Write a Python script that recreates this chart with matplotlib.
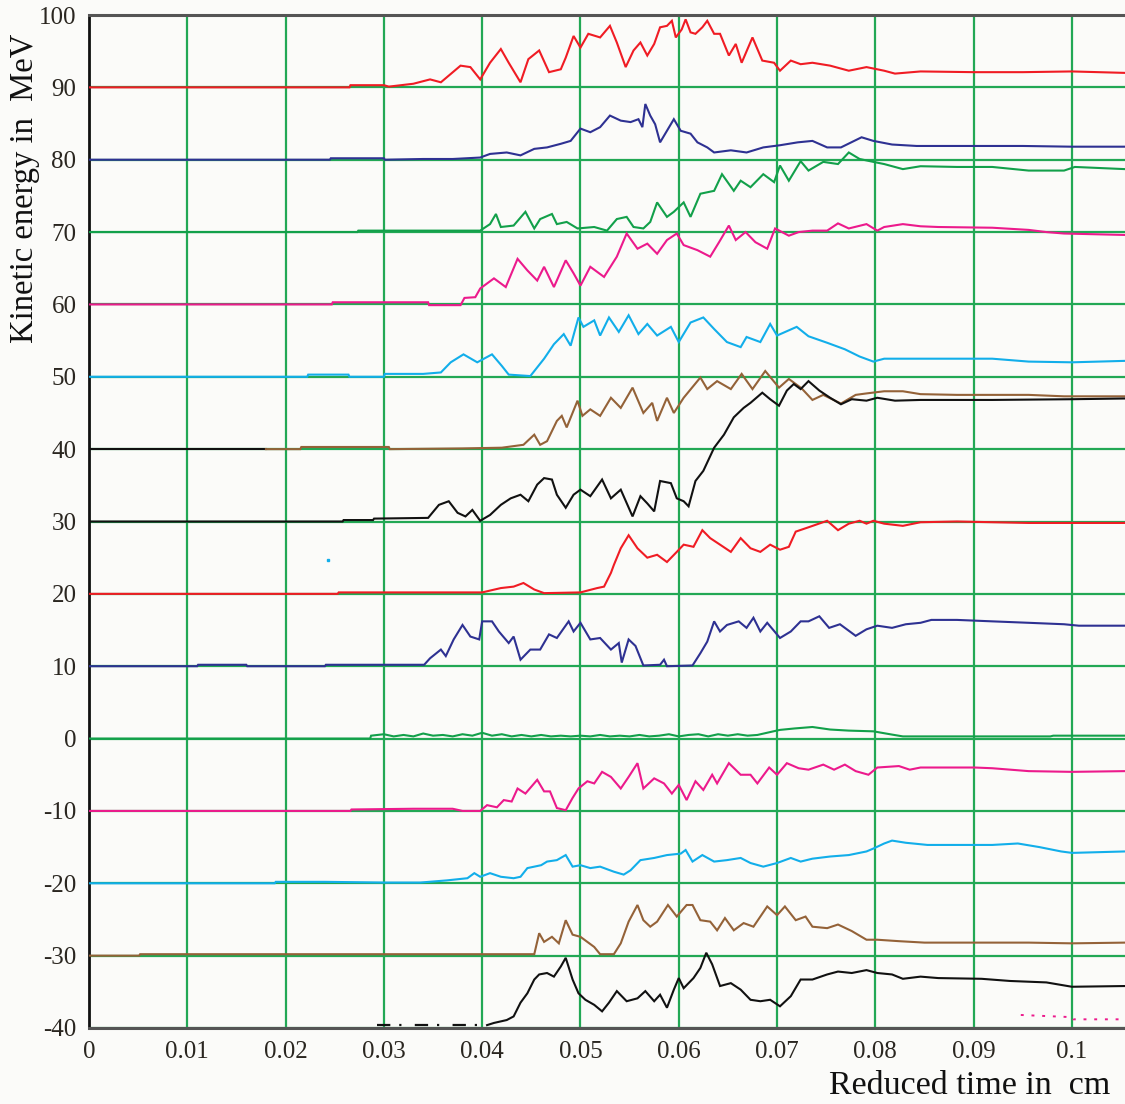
import numpy as np
import matplotlib
matplotlib.use("Agg")
import matplotlib.pyplot as plt

plt.rcParams['font.family'] = ['Liberation Serif', 'DejaVu Serif']
plt.rcParams['axes.unicode_minus'] = False

# time ticks / energy ticks
x_ticks = [0, 0.01, 0.02, 0.03, 0.04, 0.05, 0.06, 0.07, 0.08, 0.09, 0.1]
x_labels = ["0", "0.01", "0.02", "0.03", "0.04", "0.05", "0.06", "0.07", "0.08", "0.09", "0.1"]
y_ticks = [-40, -30, -20, -10, 0, 10, 20, 30, 40, 50, 60, 70, 80, 90, 100]
y_labels = ["-40", "-30", "-20", "-10", "0", "10", "20", "30", "40", "50", "60", "70", "80", "90", "100"]

# kinetic energy traces, (reduced time, MeV), each shifted by its own offset
red_90 = [(0, 90), (0.0265, 90), (0.0266, 90.3), (0.0300, 90.3), (0.0305, 90.1), (0.0330, 90.5),
          (0.0347, 91.1), (0.0358, 90.7), (0.0378, 93.0), (0.0388, 92.8), (0.0398, 91.1),
          (0.0408, 93.4), (0.0419, 95.3), (0.0427, 93.4), (0.0439, 90.7), (0.0447, 93.9),
          (0.0458, 95.1), (0.0468, 92.1), (0.0480, 92.5), (0.0485, 94.1), (0.0493, 97.1),
          (0.0500, 95.5), (0.0508, 97.4), (0.0520, 96.9), (0.0530, 98.5), (0.0537, 96.2),
          (0.0546, 92.8), (0.0554, 95.1), (0.0561, 96.2), (0.0568, 94.4), (0.0575, 96.0),
          (0.0581, 98.3), (0.0588, 98.5), (0.0593, 99.2), (0.0597, 96.9), (0.0603, 98.0),
          (0.0607, 99.4), (0.0612, 97.6), (0.0617, 97.4), (0.0624, 98.3), (0.0629, 99.2),
          (0.0636, 97.4), (0.0642, 97.4), (0.0651, 94.4), (0.0658, 96.0), (0.0664, 93.4),
          (0.0675, 96.9), (0.0685, 93.7), (0.0697, 93.4), (0.0703, 92.3), (0.0714, 93.7),
          (0.0724, 93.2), (0.0736, 93.4), (0.0754, 93.0), (0.0773, 92.3), (0.0791, 92.8),
          (0.0809, 92.3), (0.0820, 91.9), (0.0846, 92.2), (0.0900, 92.1), (0.0950, 92.1),
          (0.1000, 92.2), (0.1054, 92.0)]

navy_80 = [(0, 80), (0.0245, 80), (0.0246, 80.2), (0.0300, 80.2), (0.0301, 80.0), (0.0340, 80.1),
           (0.0370, 80.1), (0.0398, 80.3), (0.0408, 80.8), (0.0425, 81.0), (0.0439, 80.6),
           (0.0453, 81.5), (0.0466, 81.7), (0.0480, 82.2), (0.0490, 82.6), (0.0500, 84.3),
           (0.0510, 83.8), (0.0520, 84.5), (0.0530, 86.1), (0.0541, 85.4), (0.0551, 85.2),
           (0.0559, 85.6), (0.0563, 84.5), (0.0566, 87.7), (0.0571, 86.1), (0.0576, 84.9),
           (0.0581, 82.4), (0.0588, 84.0), (0.0595, 85.6), (0.0602, 84.0), (0.0612, 83.6),
           (0.0619, 82.4), (0.0629, 81.7), (0.0636, 81.0), (0.0653, 81.3), (0.0669, 81.0),
           (0.0686, 81.7), (0.0703, 82.0), (0.0721, 82.4), (0.0736, 82.6), (0.0751, 81.7),
           (0.0765, 81.7), (0.0786, 83.1), (0.0798, 82.6), (0.0817, 82.1), (0.0842, 81.9),
           (0.0950, 81.9), (0.1000, 81.8), (0.1054, 81.8)]

green_70 = [(0, 70), (0.0273, 70), (0.0274, 70.2), (0.0398, 70.2), (0.0408, 71.1), (0.0414, 72.5),
            (0.0419, 70.7), (0.0432, 70.9), (0.0444, 72.8), (0.0453, 70.5), (0.0459, 71.8),
            (0.0471, 72.5), (0.0476, 71.1), (0.0486, 71.4), (0.0497, 70.5), (0.0514, 70.7),
            (0.0527, 70.2), (0.0537, 71.8), (0.0547, 72.1), (0.0554, 70.7), (0.0564, 70.5),
            (0.0571, 71.4), (0.0578, 74.1), (0.0588, 72.1), (0.0595, 72.8), (0.0605, 74.1),
            (0.0612, 72.1), (0.0622, 75.3), (0.0636, 75.7), (0.0644, 78.0), (0.0656, 75.7),
            (0.0663, 77.1), (0.0673, 76.2), (0.0686, 78.0), (0.0697, 76.9), (0.0703, 79.2),
            (0.0712, 77.1), (0.0724, 79.8), (0.0732, 78.5), (0.0747, 79.7), (0.0762, 79.4),
            (0.0773, 81.0), (0.0784, 80.1), (0.0798, 79.7), (0.0809, 79.4), (0.0828, 78.7),
            (0.0846, 79.1), (0.0883, 79.0), (0.0919, 79.0), (0.0956, 78.5), (0.0992, 78.5),
            (0.1003, 79.0), (0.1054, 78.7)]

pink_60 = [(0, 60), (0.0247, 60), (0.0248, 60.3), (0.0345, 60.3), (0.0346, 59.9), (0.0378, 59.9),
           (0.0382, 60.9), (0.0393, 61.0), (0.0398, 62.2), (0.0412, 63.6), (0.0424, 62.4),
           (0.0436, 66.3), (0.0446, 64.7), (0.0456, 63.3), (0.0463, 65.2), (0.0473, 62.4),
           (0.0485, 66.1), (0.0493, 64.3), (0.0500, 62.6), (0.0510, 65.2), (0.0524, 63.8),
           (0.0537, 66.6), (0.0547, 69.8), (0.0558, 67.7), (0.0568, 68.4), (0.0578, 67.0),
           (0.0588, 68.9), (0.0598, 69.8), (0.0605, 68.2), (0.0619, 67.5), (0.0632, 66.6),
           (0.0641, 68.6), (0.0651, 70.9), (0.0658, 68.9), (0.0668, 70.0), (0.0678, 68.6),
           (0.0690, 67.7), (0.0698, 70.5), (0.0712, 69.5), (0.0722, 70.0), (0.0736, 70.2),
           (0.0751, 70.2), (0.0762, 71.2), (0.0773, 70.5), (0.0791, 71.1), (0.0802, 70.2),
           (0.0809, 70.7), (0.0828, 71.1), (0.0846, 70.8), (0.0864, 70.7), (0.0919, 70.6),
           (0.0956, 70.3), (0.0974, 70.0), (0.0992, 69.8), (0.1054, 69.6)]

cyan_50 = [(0, 50), (0.0222, 50), (0.0223, 50.3), (0.0264, 50.3), (0.0265, 50.0), (0.0300, 50.0),
           (0.0301, 50.4), (0.0340, 50.4), (0.0358, 50.6), (0.0368, 52.0), (0.0381, 53.1),
           (0.0395, 52.0), (0.0410, 53.1), (0.0420, 51.5), (0.0427, 50.3), (0.0449, 50.1),
           (0.0463, 52.5), (0.0473, 54.5), (0.0483, 55.9), (0.0490, 54.3), (0.0498, 58.2),
           (0.0503, 56.9), (0.0514, 57.8), (0.0520, 55.7), (0.0529, 58.2), (0.0539, 56.2),
           (0.0549, 58.5), (0.0559, 55.9), (0.0568, 57.3), (0.0578, 55.7), (0.0592, 56.9),
           (0.0600, 54.8), (0.0612, 57.5), (0.0625, 58.2), (0.0636, 56.6), (0.0649, 54.8),
           (0.0663, 54.1), (0.0669, 55.5), (0.0683, 54.8), (0.0693, 57.3), (0.0700, 55.7),
           (0.0720, 56.9), (0.0732, 55.6), (0.0751, 54.7), (0.0769, 53.8), (0.0784, 52.8),
           (0.0798, 52.1), (0.0809, 52.5), (0.0846, 52.5), (0.0919, 52.5), (0.0956, 52.1),
           (0.1000, 52.0), (0.1054, 52.2)]

black_40 = [(0, 40), (0.018, 40)]
brown_40 = [(0.018, 40), (0.0215, 40), (0.0216, 40.3), (0.0305, 40.3), (0.0306, 40.0), (0.0380, 40.1),
            (0.0420, 40.2), (0.0442, 40.6), (0.0453, 42.0), (0.0459, 40.6), (0.0466, 41.1),
            (0.0476, 43.9), (0.0481, 44.6), (0.0486, 43.0), (0.0497, 46.7), (0.0502, 44.6),
            (0.0510, 45.5), (0.0520, 44.6), (0.0531, 47.1), (0.0541, 45.7), (0.0553, 48.5),
            (0.0564, 45.0), (0.0573, 46.4), (0.0578, 43.9), (0.0588, 47.1), (0.0595, 45.0),
            (0.0605, 47.1), (0.0622, 49.9), (0.0629, 48.3), (0.0639, 49.4), (0.0653, 48.3),
            (0.0664, 50.4), (0.0675, 48.3), (0.0688, 50.8), (0.0702, 48.5), (0.0712, 49.7),
            (0.0725, 48.4), (0.0736, 46.8), (0.0747, 47.5), (0.0765, 46.3), (0.0780, 47.5),
            (0.0791, 47.7), (0.0809, 48.0), (0.0828, 48.0), (0.0846, 47.6), (0.0883, 47.5),
            (0.0956, 47.5), (0.0992, 47.3), (0.1054, 47.3)]

black_30 = [(0, 30), (0.0258, 30), (0.0259, 30.2), (0.0289, 30.2), (0.0290, 30.4), (0.0345, 30.5),
            (0.0356, 32.3), (0.0366, 32.8), (0.0375, 31.2), (0.0383, 30.7), (0.0390, 31.6),
            (0.0398, 30.1), (0.0408, 30.9), (0.0419, 32.3), (0.0429, 33.2), (0.0439, 33.7),
            (0.0447, 32.8), (0.0456, 35.1), (0.0463, 36.0), (0.0471, 35.8), (0.0476, 33.7),
            (0.0485, 31.9), (0.0493, 33.7), (0.0500, 34.4), (0.0510, 33.5), (0.0522, 35.8),
            (0.0531, 33.2), (0.0541, 34.4), (0.0553, 30.7), (0.0561, 33.5), (0.0568, 32.5),
            (0.0575, 31.4), (0.0581, 35.6), (0.0592, 35.3), (0.0598, 33.2), (0.0605, 32.8),
            (0.0610, 32.1), (0.0617, 35.6), (0.0625, 37.0), (0.0636, 40.2), (0.0646, 42.0),
            (0.0656, 44.4), (0.0666, 45.7), (0.0673, 46.4), (0.0685, 47.8), (0.0693, 46.9),
            (0.0702, 46.0), (0.0710, 48.1), (0.0717, 49.0), (0.0724, 48.3), (0.0732, 49.4),
            (0.0743, 48.1), (0.0754, 47.1), (0.0765, 46.2), (0.0776, 46.9), (0.0791, 46.7),
            (0.0802, 47.1), (0.0820, 46.7), (0.0846, 46.8), (0.0919, 46.8), (0.1000, 46.9),
            (0.1054, 47.0)]

red_20 = [(0, 20), (0.0253, 20), (0.0254, 20.2), (0.0400, 20.2), (0.0419, 20.8), (0.0432, 21.0),
          (0.0442, 21.5), (0.0453, 20.6), (0.0463, 20.1), (0.0500, 20.2), (0.0517, 20.8),
          (0.0524, 21.0), (0.0531, 22.9), (0.0534, 24.0), (0.0541, 26.3), (0.0549, 28.1),
          (0.0558, 26.3), (0.0568, 25.0), (0.0578, 25.4), (0.0588, 24.4), (0.0598, 25.8),
          (0.0605, 26.8), (0.0615, 26.5), (0.0624, 28.8), (0.0632, 27.7), (0.0642, 26.8),
          (0.0653, 25.8), (0.0663, 27.7), (0.0673, 26.3), (0.0683, 25.8), (0.0693, 26.8),
          (0.0703, 26.1), (0.0712, 26.5), (0.0719, 28.6), (0.0732, 29.2), (0.0751, 30.1),
          (0.0762, 28.8), (0.0773, 29.7), (0.0784, 30.1), (0.0791, 29.7), (0.0798, 30.1),
          (0.0809, 29.7), (0.0828, 29.4), (0.0846, 29.9), (0.0883, 30.0), (0.0956, 29.8),
          (0.1054, 29.8)]

navy_10 = [(0, 10), (0.0110, 10), (0.0111, 10.2), (0.0160, 10.2), (0.0161, 10.0), (0.0240, 10.0),
           (0.0241, 10.2), (0.0341, 10.2), (0.0347, 11.1), (0.0358, 12.3), (0.0363, 11.4),
           (0.0371, 13.7), (0.0380, 15.7), (0.0388, 14.1), (0.0397, 13.7), (0.0400, 16.2),
           (0.0410, 16.2), (0.0417, 14.8), (0.0427, 13.2), (0.0432, 14.1), (0.0439, 10.9),
           (0.0449, 12.3), (0.0459, 12.3), (0.0468, 14.4), (0.0476, 13.9), (0.0488, 16.2),
           (0.0493, 14.8), (0.0500, 16.0), (0.0510, 13.7), (0.0520, 13.9), (0.0531, 12.3),
           (0.0539, 13.2), (0.0542, 10.5), (0.0549, 13.7), (0.0556, 12.8), (0.0564, 10.1),
           (0.0581, 10.2), (0.0585, 10.9), (0.0588, 10.0), (0.0614, 10.1), (0.0622, 11.8),
           (0.0629, 13.4), (0.0636, 16.2), (0.0642, 14.8), (0.0649, 15.7), (0.0661, 16.2),
           (0.0669, 15.3), (0.0676, 16.7), (0.0683, 14.8), (0.0690, 16.0), (0.0703, 13.9),
           (0.0714, 14.8), (0.0724, 16.2), (0.0732, 16.2), (0.0743, 16.9), (0.0753, 15.3),
           (0.0764, 15.8), (0.0773, 14.9), (0.0780, 14.2), (0.0791, 15.1), (0.0802, 15.6),
           (0.0817, 15.3), (0.0831, 15.8), (0.0846, 16.0), (0.0857, 16.4), (0.0883, 16.4),
           (0.0919, 16.2), (0.0956, 16.0), (0.0992, 15.8), (0.1007, 15.6), (0.1054, 15.6)]

green_0 = [(0, 0), (0.0286, 0), (0.0287, 0.4), (0.0300, 0.6), (0.0310, 0.3), (0.0320, 0.5),
           (0.0330, 0.3), (0.0340, 0.7), (0.0350, 0.4), (0.0360, 0.5), (0.0370, 0.3),
           (0.0380, 0.6), (0.0390, 0.4), (0.0400, 0.8), (0.0410, 0.4), (0.0420, 0.6),
           (0.0430, 0.3), (0.0440, 0.5), (0.0450, 0.3), (0.0460, 0.5), (0.0470, 0.3),
           (0.0480, 0.4), (0.0490, 0.3), (0.0500, 0.4), (0.0510, 0.3), (0.0520, 0.5),
           (0.0530, 0.3), (0.0540, 0.4), (0.0550, 0.3), (0.0560, 0.5), (0.0570, 0.3),
           (0.0580, 0.4), (0.0590, 0.6), (0.0600, 0.3), (0.0610, 0.5), (0.0620, 0.6),
           (0.0630, 0.3), (0.0640, 0.6), (0.0650, 0.4), (0.0660, 0.6), (0.0670, 0.4),
           (0.0680, 0.5), (0.0693, 0.9), (0.0703, 1.2), (0.0718, 1.4), (0.0736, 1.6),
           (0.0754, 1.25), (0.0773, 1.1), (0.0798, 1.0), (0.0817, 0.55), (0.0828, 0.3),
           (0.0883, 0.3), (0.0978, 0.3), (0.0981, 0.4), (0.1054, 0.4)]

pink_m10 = [(0, -10), (0.0266, -10), (0.0267, -9.8), (0.0330, -9.7), (0.0370, -9.7), (0.0380, -10.0),
            (0.0398, -10.0), (0.0405, -9.2), (0.0415, -9.5), (0.0422, -8.5), (0.0430, -8.7),
            (0.0436, -6.9), (0.0444, -7.6), (0.0456, -5.7), (0.0463, -7.3), (0.0469, -7.3),
            (0.0476, -9.6), (0.0485, -9.9), (0.0492, -8.2), (0.0498, -6.9), (0.0507, -5.9),
            (0.0514, -6.2), (0.0522, -4.6), (0.0531, -5.3), (0.0541, -6.9), (0.0549, -5.3),
            (0.0558, -3.4), (0.0564, -6.9), (0.0575, -5.5), (0.0585, -6.2), (0.0593, -7.6),
            (0.0600, -6.4), (0.0608, -8.5), (0.0617, -5.9), (0.0625, -7.1), (0.0634, -5.0),
            (0.0639, -6.2), (0.0651, -3.4), (0.0663, -5.0), (0.0673, -5.0), (0.0680, -6.2),
            (0.0692, -4.0), (0.0700, -5.0), (0.0710, -3.4), (0.0722, -4.1), (0.0732, -4.3),
            (0.0747, -3.6), (0.0758, -4.3), (0.0769, -3.6), (0.0780, -4.5), (0.0793, -5.0),
            (0.0802, -4.0), (0.0824, -3.8), (0.0835, -4.3), (0.0846, -4.0), (0.0901, -4.0),
            (0.0919, -4.1), (0.0956, -4.5), (0.1000, -4.6), (0.1054, -4.5)]

cyan_m20 = [(0, -20), (0.0189, -20), (0.0190, -19.8), (0.0240, -19.8), (0.0300, -19.9),
            (0.0337, -19.9), (0.0364, -19.6), (0.0385, -19.3), (0.0392, -18.6), (0.0398, -19.1),
            (0.0408, -18.6), (0.0419, -19.1), (0.0432, -19.3), (0.0439, -19.1), (0.0446, -17.9),
            (0.0460, -17.5), (0.0466, -17.0), (0.0476, -16.8), (0.0485, -16.1), (0.0492, -17.7),
            (0.0500, -17.5), (0.0510, -17.9), (0.0520, -17.7), (0.0534, -18.4), (0.0544, -18.8),
            (0.0551, -18.2), (0.0561, -16.8), (0.0575, -16.5), (0.0588, -16.1), (0.0602, -15.9),
            (0.0607, -15.4), (0.0614, -17.0), (0.0624, -16.1), (0.0636, -17.0), (0.0649, -16.8),
            (0.0663, -16.5), (0.0673, -17.2), (0.0686, -17.7), (0.0700, -17.2), (0.0714, -16.5),
            (0.0724, -17.0), (0.0736, -16.6), (0.0754, -16.3), (0.0773, -16.1), (0.0791, -15.6),
            (0.0798, -15.2), (0.0809, -14.5), (0.0817, -14.1), (0.0831, -14.4), (0.0853, -14.7),
            (0.0919, -14.7), (0.0945, -14.5), (0.0967, -15.0), (0.0989, -15.6), (0.1000, -15.8),
            (0.1054, -15.6)]

brown_m30 = [(0, -30), (0.0051, -30), (0.0052, -29.8), (0.0453, -29.8), (0.0458, -26.9),
             (0.0463, -28.1), (0.0471, -27.4), (0.0478, -28.3), (0.0485, -25.1), (0.0492, -27.1),
             (0.0500, -27.4), (0.0507, -28.1), (0.0514, -28.8), (0.0520, -29.8), (0.0534, -29.8),
             (0.0541, -28.3), (0.0549, -25.3), (0.0558, -23.0), (0.0564, -25.1), (0.0571, -26.0),
             (0.0578, -25.3), (0.0589, -23.0), (0.0598, -24.6), (0.0608, -23.0), (0.0614, -23.0),
             (0.0622, -25.1), (0.0632, -25.3), (0.0639, -26.5), (0.0647, -24.8), (0.0656, -26.5),
             (0.0666, -25.5), (0.0676, -26.0), (0.0690, -23.2), (0.0700, -24.4), (0.0708, -23.2),
             (0.0719, -25.1), (0.0729, -24.6), (0.0736, -26.0), (0.0751, -26.2), (0.0762, -25.7),
             (0.0776, -26.6), (0.0791, -27.8), (0.0802, -27.8), (0.0824, -28.0), (0.0850, -28.2),
             (0.0956, -28.2), (0.1000, -28.3), (0.1054, -28.2)]

black_m40_tail = [(0.0293, -39.6), (0.0405, -39.6)]
black_m40 = [(0.0405, -39.6), (0.0412, -39.3), (0.0425, -38.9), (0.0432, -38.4), (0.0439, -36.5),
             (0.0446, -35.2), (0.0453, -33.3), (0.0458, -32.6), (0.0466, -32.4), (0.0473, -32.9),
             (0.0480, -31.5), (0.0485, -30.3), (0.0492, -33.3), (0.0498, -35.2), (0.0505, -36.1),
             (0.0514, -36.8), (0.0522, -37.7), (0.0529, -36.5), (0.0537, -34.9), (0.0547, -36.3),
             (0.0558, -35.9), (0.0566, -34.9), (0.0575, -36.3), (0.0581, -35.4), (0.0588, -37.2),
             (0.0595, -34.7), (0.0600, -33.1), (0.0605, -34.5), (0.0615, -33.1), (0.0622, -31.7),
             (0.0628, -29.6), (0.0634, -31.2), (0.0642, -34.2), (0.0653, -33.8), (0.0663, -34.7),
             (0.0673, -36.1), (0.0683, -36.3), (0.0693, -36.1), (0.0703, -37.0), (0.0714, -35.6),
             (0.0724, -33.3), (0.0736, -33.3), (0.0751, -32.6), (0.0762, -32.2), (0.0776, -32.4),
             (0.0791, -32.0), (0.0802, -32.4), (0.0817, -32.6), (0.0828, -33.2), (0.0846, -32.9),
             (0.0864, -33.1), (0.0908, -33.2), (0.0937, -33.5), (0.0974, -33.7), (0.1000, -34.3),
             (0.1054, -34.2)]

pink_dots = [(0.0948, -38.2), (0.1000, -38.5), (0.1001, -38.8), (0.1054, -38.8)]
stray_point = [(0.0243, 24.7)]

RED = '#f01c24'
NAVY = '#2e3192'
GREEN = '#12a04a'
PINK = '#ec1a8c'
CYAN = '#12aeea'
BROWN = '#946238'
BLACK = '#111111'
GRID = '#22a855'

traces = [
    (red_90, RED), (navy_80, NAVY), (green_70, GREEN), (pink_60, PINK),
    (cyan_50, CYAN), (black_40, BLACK), (brown_40, BROWN), (black_30, BLACK),
    (red_20, RED), (navy_10, NAVY), (green_0, GREEN), (pink_m10, PINK),
    (cyan_m20, CYAN), (brown_m30, BROWN), (black_m40, BLACK),
]

fig = plt.figure(figsize=(11.25, 11.04), dpi=100)
fig.patch.set_facecolor('#fbfbf9')
ax = fig.add_axes([89 / 1125, 76 / 1104, 1 - 89 / 1125, 1013 / 1104])
ax.set_facecolor('#fbfbf9')

ax.set_xlim(0, 0.1054)
ax.set_ylim(-40, 100)
ax.set_xticks(x_ticks)
ax.set_xticklabels(x_labels)
ax.set_yticks(y_ticks)
ax.set_yticklabels(y_labels)
ax.tick_params(length=0, labelsize=18, labelcolor='#2a2620', pad=9)
ax.grid(True, color=GRID, linewidth=1.6, zorder=1)
ax.set_axisbelow(True)

for pts, col in traces:
    xs, ys = np.array(pts).T
    ax.plot(xs, ys, color=col, linewidth=1.5, zorder=3, solid_joinstyle='miter')

xs, ys = np.array(black_m40_tail).T
ax.plot(xs, ys, color=BLACK, linewidth=1.6, dashes=(6, 4, 1, 6), zorder=3)
xs, ys = np.array(pink_dots).T
ax.plot(xs, ys, color=PINK, linewidth=1.4, dashes=(1.5, 4), zorder=3)
xs, ys = np.array(stray_point).T
ax.plot(xs, ys, 's', color=CYAN, markersize=1.5, zorder=3)

for side in ['top', 'bottom']:
    ax.spines[side].set_color('#555555')
    ax.spines[side].set_linewidth(2.2)
ax.spines['left'].set_color('#111111')
ax.spines['left'].set_linewidth(2.0)
ax.spines['right'].set_visible(False)

fig.text(25 / 1125, 1 - 188 / 1104, "Kinetic energy in  MeV", rotation=90,
         ha='center', va='center', fontsize=23.5, color='#111111')
fig.text(1110 / 1125, 3 / 1104, "Reduced time in  cm", ha='right', va='bottom',
         fontsize=24.5, color='#111111')

fig.savefig('out.png', dpi=100, facecolor=fig.get_facecolor())
